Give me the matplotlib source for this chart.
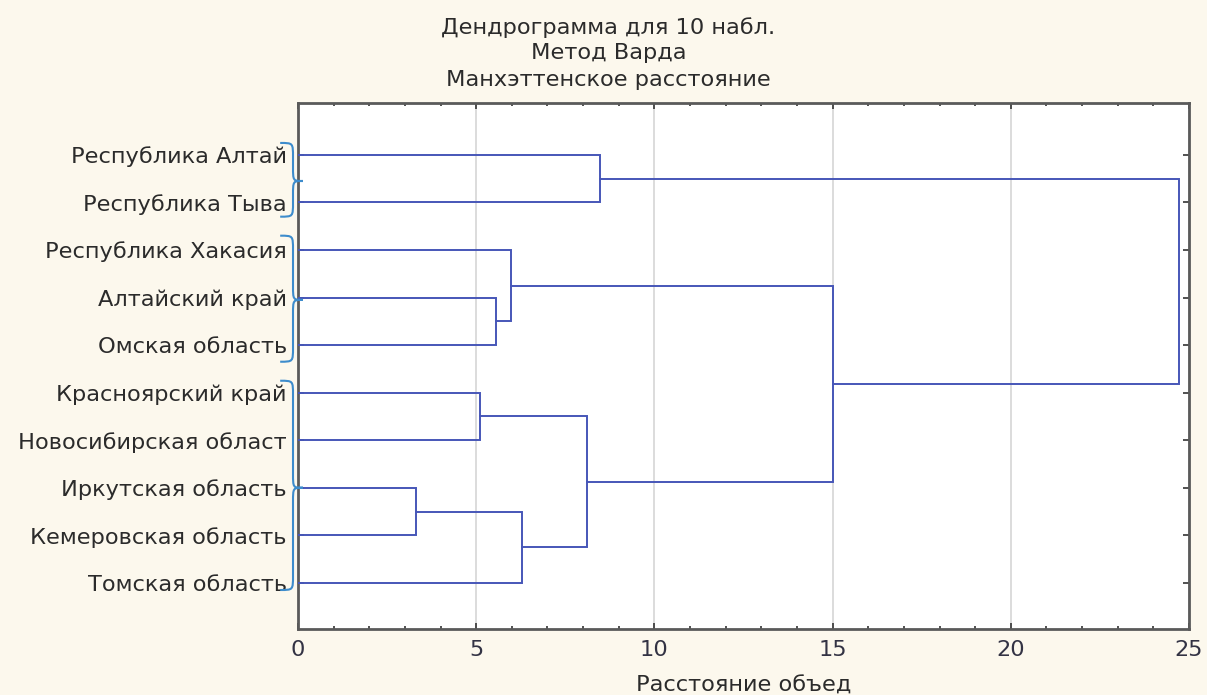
import numpy as np
import matplotlib.pyplot as plt
from matplotlib.path import Path
from matplotlib.patches import PathPatch

plt.rcParams['font.family'] = ['DejaVu Sans']

# листья дендрограммы (сверху вниз)
leaves = ['Республика Алтай', 'Республика Тыва', 'Республика Хакасия',
          'Алтайский край', 'Омская область', 'Красноярский край',
          'Новосибирская област', 'Иркутская область', 'Кемеровская область',
          'Томская область']
# объединения: (кластер 1, кластер 2, расстояние); новые кластеры получают номера 10, 11, ...
merge_a = [7, 3, 5, 10, 0, 2, 12, 15, 14]
merge_b = [8, 4, 6, 9, 1, 11, 13, 16, 17]
merge_h = [3.31, 5.56, 5.10, 6.28, 8.48, 5.98, 8.11, 15.0, 24.72]
# фигурные скобки: (начало, острие, конец) в номерах строк
braces = [(-0.25, 0.55, 1.3), (1.7, 3.05, 4.35), (4.75, 7.0, 9.15)]

line_col = '#4656b8'
brace_col = '#3d8ccc'
bg = '#fcf8ed'
txt = '#2b2b2b'
fs = 16.2

fig = plt.figure(figsize=(12.07, 6.95), dpi=100, facecolor=bg)
ax = fig.add_axes([298 / 1207, 1 - 629 / 695, 891 / 1207, 526 / 695])
ax.set_facecolor('white')

pos = {i: (float(i), 0.0) for i in range(len(leaves))}
for k, (a, b, h) in enumerate(zip(merge_a, merge_b, merge_h)):
    ya, ha = pos[a]
    yb, hb = pos[b]
    ax.plot([ha, h, h, hb], [ya, ya, yb, yb], color=line_col, lw=1.4,
            solid_joinstyle='miter', zorder=3)
    pos[len(leaves) + k] = ((ya + yb) / 2, h)

ax.set_xlim(0, 25)
ax.set_ylim(9.97, -1.09)
ax.set_xticks(np.arange(0, 26, 5))
ax.set_xticks(np.arange(0, 26, 1), minor=True)
ax.set_yticks(range(len(leaves)))
ax.set_yticklabels(leaves)
ax.grid(axis='x', color='#dcdcdc', lw=1.4, zorder=0)
ax.tick_params(which='both', direction='in', top=True, right=True,
               color='#333333', width=1.2)
ax.tick_params(which='major', length=4)
ax.tick_params(which='minor', length=2.5)
ax.tick_params(axis='y', labelsize=fs, pad=8, labelcolor=txt)
ax.tick_params(axis='x', labelsize=fs, pad=8, labelcolor='#333344')
for s in ax.spines.values():
    s.set_color('#5a5a5a')
    s.set_linewidth(2)

# скобки слева от оси
for y0, yt, y1 in braces:
    xl, xm, xr = -0.5, -0.14, 0.14
    r = 0.3
    verts = [(xl, y0), (xm, y0), (xm, y0), (xm, y0 + r),
             (xm, yt - r), (xm, yt), (xm, yt), (xr, yt),
             (xm, yt), (xm, yt), (xm, yt + r),
             (xm, y1 - r), (xm, y1), (xm, y1), (xl, y1)]
    codes = [Path.MOVETO, Path.CURVE4, Path.CURVE4, Path.CURVE4,
             Path.LINETO, Path.CURVE4, Path.CURVE4, Path.CURVE4,
             Path.CURVE4, Path.CURVE4, Path.CURVE4,
             Path.LINETO, Path.CURVE4, Path.CURVE4, Path.CURVE4]
    ax.add_patch(PathPatch(Path(verts, codes), fill=False, ec=brace_col,
                           lw=1.5, clip_on=False, zorder=5))

fig.text(0.504, 1 - 28 / 695, 'Дендрограмма для 10 набл.', ha='center', va='center',
         fontsize=fs, color=txt)
fig.text(0.504, 1 - 53 / 695, 'Метод Варда', ha='center', va='center',
         fontsize=fs, color=txt)
fig.text(0.504, 1 - 80 / 695, 'Манхэттенское расстояние', ha='center', va='center',
         fontsize=fs, color=txt)
fig.text(744 / 1207, 1 - 686 / 695, 'Расстояние объед', ha='center', va='center',
         fontsize=fs, color=txt)

fig.savefig('out.png', dpi=100, facecolor=bg)
